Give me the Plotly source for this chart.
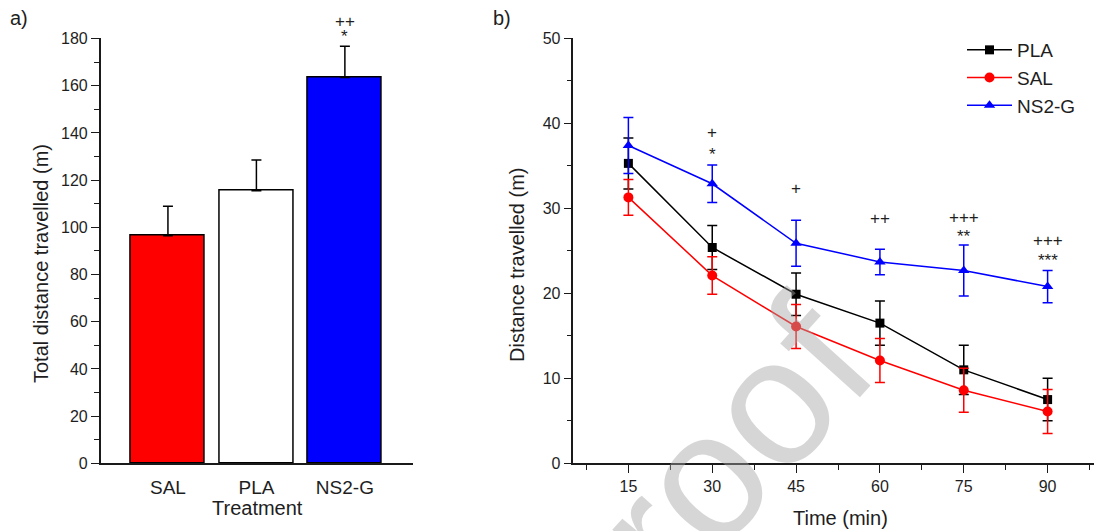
import plotly.graph_objects as go

# ---- data: panel a ----
treatments = ["SAL", "PLA", "NS2-G"]
total_distance = [96.4, 115.5, 163.5]
total_err = [12.5, 13.0, 13.2]
bar_colors = ["#FF0000", "#FFFFFF", "#0000FF"]

# ---- data: panel b ----
time_min = [15, 30, 45, 60, 75, 90]
pla = [35.3, 25.4, 19.9, 16.5, 11.0, 7.5]
pla_err = [3.0, 2.6, 2.5, 2.6, 2.9, 2.5]
sal = [31.3, 22.1, 16.1, 12.1, 8.6, 6.1]
sal_err = [2.1, 2.2, 2.6, 2.6, 2.6, 2.6]
ns2g = [37.4, 32.9, 25.9, 23.7, 22.7, 20.8]
ns2g_err = [3.3, 2.2, 2.7, 1.5, 3.0, 1.9]

sig_a = [("NS2-G", "*", 181.0), ("NS2-G", "++", 187.0)]
sig_b = [(30, "+", 38.9), (30, "*", 36.4), (45, "+", 32.4), (60, "++", 28.8),
         (75, "+++", 28.9), (75, "**", 26.7), (90, "+++", 26.2), (90, "***", 23.9)]

FONT = "Arial, Liberation Sans, sans-serif"
AX = "#1a1a1a"
TXT = "#1e1e1e"
W, H = 1094, 531
YDOM = [0.1275, 0.9275]
YRANGE_A = [0, 180]

fig = go.Figure()

fig.add_trace(go.Bar(
    x=[0, 1, 2], y=total_distance, width=0.84,
    marker=dict(color=bar_colors, line=dict(color="black", width=1.5)),
    error_y=dict(type="data", array=total_err, arrayminus=[0, 0, 0], symmetric=False,
                 color="black", thickness=1.5, width=5),
    xaxis="x", yaxis="y", showlegend=False))

series = [("PLA", pla, pla_err, "black", "square", 9),
          ("SAL", sal, sal_err, "#FF0000", "circle", 10),
          ("NS2-G", ns2g, ns2g_err, "#0000FF", "triangle-up", 10)]
for name, vals, errs, col, sym, sz in series:
    fig.add_trace(go.Scatter(
        x=time_min, y=vals, name=name, mode="lines+markers",
        line=dict(color=col, width=1.5),
        marker=dict(symbol=sym, size=sz, color=col),
        error_y=dict(type="data", array=errs, color=col, thickness=1.5, width=5),
        xaxis="x2", yaxis="y2", cliponaxis=False))

common = dict(showline=True, linecolor=AX, linewidth=1.6, showgrid=False, zeroline=False,
              tickfont=dict(family=FONT, size=16, color=TXT), automargin=False,
              tickcolor=AX, tickwidth=1.4)

fig.update_layout(
    width=W, height=H, margin=dict(l=0, r=0, t=0, b=0),
    paper_bgcolor="white", plot_bgcolor="white",
    font=dict(family=FONT, color=TXT),
    xaxis=dict(domain=[100.7 / W, 413 / W], range=[-0.76, 2.77], tickvals=[0, 1, 2],
               ticktext=treatments, ticks="", anchor="y", ticklabelstandoff=6,
               **{**common, "tickfont": dict(family=FONT, size=19, color=TXT)}),
    yaxis=dict(domain=YDOM, range=YRANGE_A, dtick=20, ticks="outside", ticklen=8,
               minor=dict(dtick=10, ticks="outside", ticklen=5, tickcolor=AX, tickwidth=1.4),
               anchor="x", **common),
    xaxis2=dict(domain=[572.5 / W, 1.0], range=[5, 98.3], tick0=0, dtick=15, ticks="outside",
                ticklen=8, minor=dict(dtick=7.5, ticks="outside", ticklen=5, tickcolor=AX, tickwidth=1.4),
                anchor="y2", **common),
    yaxis2=dict(domain=YDOM, range=[0, 50], dtick=10, ticks="outside", ticklen=7,
                minor=dict(dtick=5, ticks="outside", ticklen=4, tickcolor=AX, tickwidth=1.4),
                anchor="x2", **common),
    legend=dict(x=962 / W, y=1 - 31 / H, xanchor="left", yanchor="top",
                font=dict(family=FONT, size=19, color=TXT), bgcolor="rgba(0,0,0,0)",
                tracegroupgap=0, itemwidth=45),
    bargap=0,
)

# single tick under PLA and tick at right end of axis a
for xv in [1, 2.77]:
    fig.add_shape(type="line", xref="x", yref="y", x0=xv, x1=xv, y0=0, y1=-3.4,
                  line=dict(color=AX, width=1.4))


def ya_to_paper(v):
    """map a value on panel a's y scale to paper fraction (for marks above the axis range)"""
    frac = (v - YRANGE_A[0]) / (YRANGE_A[1] - YRANGE_A[0])
    return YDOM[0] + frac * (YDOM[1] - YDOM[0])


ann = []
# watermark
ann.append(dict(text="roof", xref="paper", yref="paper", x=732 / W, y=1 - 445 / H,
                xanchor="center", yanchor="middle",
                showarrow=False, textangle=-48,
                font=dict(family=FONT, size=180, color="rgba(165,165,165,0.45)")))
for cat, txt, yv in sig_a:
    ann.append(dict(text=txt, x=treatments.index(cat), y=ya_to_paper(yv), xref="x", yref="paper",
                    xanchor="center", yanchor="middle",
                    showarrow=False, font=dict(family=FONT, size=17, color=TXT)))
for xv, txt, yv in sig_b:
    ann.append(dict(text=txt, x=xv, y=yv, xref="x2", yref="y2",
                    xanchor="center", yanchor="middle",
                    showarrow=False, font=dict(family=FONT, size=17, color=TXT)))


def ptxt(text, px, py, size=20, angle=0):
    return dict(text=text, x=px / W, y=1 - py / H, xref="paper", yref="paper",
                xanchor="center", yanchor="middle", textangle=angle, showarrow=False,
                font=dict(family=FONT, size=size, color=TXT))


ann += [
    ptxt("a)", 19, 18),
    ptxt("b)", 502, 18),
    ptxt("Total distance travelled (m)", 41, 264, angle=-90),
    ptxt("Treatment", 257, 508),
    ptxt("Distance travelled (m)", 517, 265, angle=-90),
    ptxt("Time (min)", 840, 518),
]
fig.update_layout(annotations=ann)

fig.write_html("out.html")
